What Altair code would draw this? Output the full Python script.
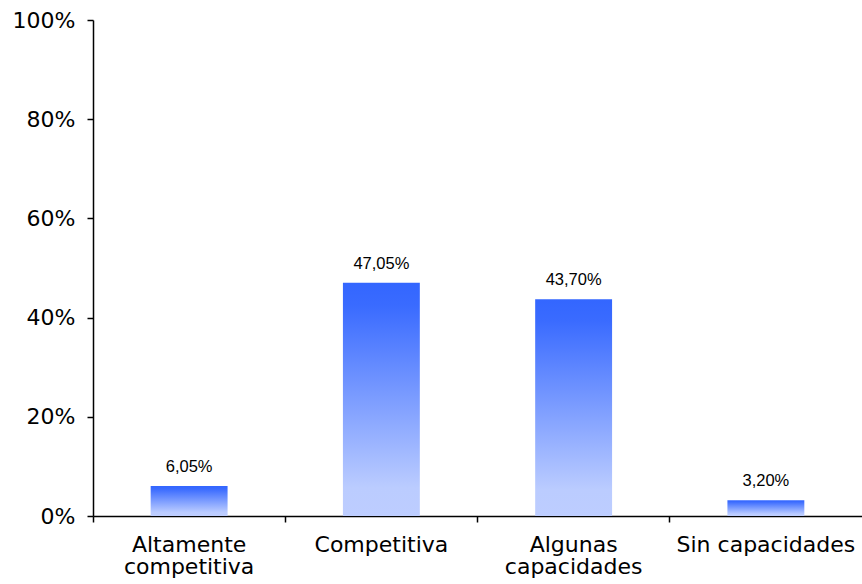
import altair as alt
import pandas as pd

categories = ["Altamente\ncompetitiva", "Competitiva", "Algunas\ncapacidades", "Sin capacidades"]
values = [6.05, 47.05, 43.70, 3.20]
y_ticks = [0, 20, 40, 60, 80, 100]

df = pd.DataFrame({"cat": categories, "val": values})

grad = alt.LinearGradient(
    gradient="linear", x1=0, y1=0, x2=0, y2=1,
    stops=[
        alt.GradientStop(color="#3366FF", offset=0),
        alt.GradientStop(color="#3A6BFF", offset=0.1),
        alt.GradientStop(color="#BBCCFF", offset=0.88),
        alt.GradientStop(color="#BDCDFF", offset=1),
    ],
)

x = alt.X(
    "cat:N", sort=categories, title=None,
    scale=alt.Scale(paddingInner=0, paddingOuter=0),
    axis=alt.Axis(
        labelAngle=0, bandPosition=0,
        labelExpr="split(datum.label, '\\n')",
        labelFont="DejaVu Sans", labelFontSize=22, labelColor="#000000",
        labelLineHeight=22, labelPadding=12, labelBaseline="top",
        tickSize=6, tickColor="#000000", tickWidth=1.5,
        domainColor="#000000", domainWidth=1.5, grid=False,
    ),
)
y = alt.Y(
    "val:Q", title=None,
    scale=alt.Scale(domain=[0, 100], nice=False),
    axis=alt.Axis(
        values=y_ticks, labelExpr="datum.value + '%'",
        labelFont="DejaVu Sans", labelFontSize=22, labelColor="#000000",
        labelPadding=12, tickSize=6, tickColor="#000000", tickWidth=1.5,
        domainColor="#000000", domainWidth=1.5, grid=False,
    ),
)

bars = alt.Chart(df).mark_bar(color=grad, width=alt.RelativeBandSize(0.4)).encode(x=x, y=y)

text = alt.Chart(df).transform_calculate(
    lbl="replace(format(datum.val, '.2f'), '.', ',') + '%'"
).mark_text(
    font="Liberation Sans", fontSize=16.5, color="#000000", baseline="alphabetic", dy=-14
).encode(x=alt.X("cat:N", sort=categories), y="val:Q", text="lbl:N")

chart = (bars + text).properties(
    width=769, height=496,
    background="white",
    autosize=alt.AutoSizeParams(type="none"),
    padding={"left": 93, "top": 20, "right": 0, "bottom": 68},
).configure_view(stroke=None)

chart.save("out.html", embed_options={"renderer": "svg", "actions": False})
